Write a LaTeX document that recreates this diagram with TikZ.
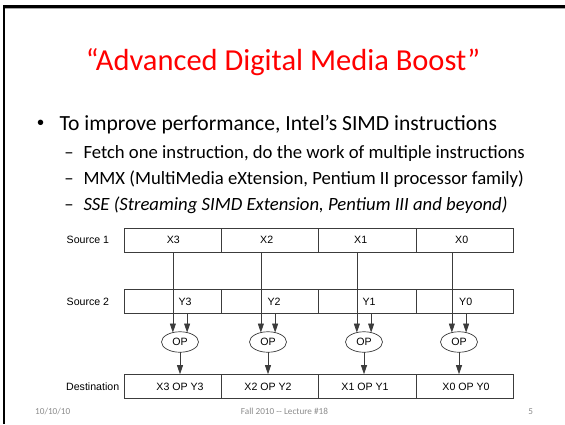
\documentclass[tikz,border=0pt]{standalone}
\usepackage{fontspec}
\setmainfont{Carlito}
\newfontfamily\arialf{Liberation Sans}
\usetikzlibrary{shapes.geometric,arrows.meta}
\definecolor{titlered}{RGB}{255,0,0}
\definecolor{footgray}{RGB}{140,140,140}
\definecolor{linegray}{RGB}{60,60,60}
\begin{document}
\begin{tikzpicture}[x=1pt,y=-1pt,
  cell/.style={draw=linegray,line width=0.7pt,minimum width=97.3pt,minimum height=24pt,inner sep=0pt,outer sep=0pt},
  dtext/.style={font=\arialf\fontsize{10.6}{12}\selectfont,anchor=base,inner sep=0pt},
  rowlabel/.style={font=\arialf\fontsize{10.6}{12}\selectfont,anchor=base west,inner sep=0pt},
  opnode/.style={ellipse,draw=linegray,line width=0.7pt,minimum width=37pt,minimum height=20.5pt,inner sep=0pt,outer sep=0pt,font=\arialf\fontsize{10.6}{12}\selectfont},
  arr/.style={draw=linegray,line width=0.7pt,-{Triangle[length=9pt,width=6pt]}},
  bodytext/.style={anchor=base west,inner sep=0pt,font=\fontsize{21.6}{26}\selectfont},
  subtext/.style={anchor=base west,inner sep=0pt,font=\fontsize{18.7}{22}\selectfont},
  foot/.style={inner sep=0pt,text=footgray,font=\fontsize{9.2}{11}\selectfont}]
\useasboundingbox (0,0) rectangle (565,424);
\fill[white] (0,0) rectangle (565,424);
% slide frame
\fill[black] (3,5) rectangle (565,8);
\fill[black] (3,5) rectangle (5,424);
\fill[black!35] (5,8) rectangle (565,9);
% title
\node[anchor=base,inner sep=0pt,text=titlered,font=\fontsize{30.5}{36}\selectfont] (title) at (283,70.7) {“Advanced Digital Media Boost”};
% bullets
\node[anchor=base,inner sep=0pt,font=\arialf\fontsize{20}{24}\selectfont] (bul) at (40.7,129.5) {•};
\node[bodytext] (b1) at (59.3,130) {To improve performance, Intel’s SIMD instructions};
\node[anchor=base,inner sep=0pt,font=\fontsize{18.7}{22}\selectfont] (d1) at (69,158.3) {–};
\node[subtext] (s1) at (83.3,158.3) {Fetch one instruction, do the work of multiple instructions};
\node[anchor=base,inner sep=0pt,font=\fontsize{18.7}{22}\selectfont] (d2) at (69,184) {–};
\node[subtext] (s2) at (83.3,184) {MMX (MultiMedia eXtension, Pentium II processor family)};
\node[anchor=base,inner sep=0pt,font=\fontsize{18.7}{22}\selectfont] (d3) at (69,210) {–};
\node[subtext] (s3) at (83.3,210) {\itshape SSE (Streaming SIMD Extension, Pentium III and beyond)};
% row labels
\node[rowlabel] (lab1) at (66.5,243.8) {Source 1};
\node[rowlabel] (lab2) at (66.5,305.5) {Source 2};
\node[rowlabel] (lab3) at (66,390) {Destination};
% cells
\foreach \i/\n in {0/3,1/2,2/1,3/0}{
  \node[cell] (sa\n) at ({124+97.3*\i+48.65},240) {};
  \node[cell] (sb\n) at ({124+97.3*\i+48.65},301.2) {};
  \node[cell] (dc\n) at ({124+97.3*\i+48.65},386.2) {};
}
% cell texts
\node[dtext] (tx3) at (173.3,243.8) {X3};
\node[dtext] (tx2) at (266.7,243.8) {X2};
\node[dtext] (tx1) at (360.7,243.8) {X1};
\node[dtext] (tx0) at (461.7,243.8) {X0};
\node[dtext] (ty3) at (185,305.5) {Y3};
\node[dtext] (ty2) at (274,305.5) {Y2};
\node[dtext] (ty1) at (369,305.5) {Y1};
\node[dtext] (ty0) at (465.7,305.5) {Y0};
\node[dtext] (td3) at (180,390) {X3 OP Y3};
\node[dtext] (td2) at (268,390) {X2 OP Y2};
\node[dtext] (td1) at (365,390) {X1 OP Y1};
\node[dtext] (td0) at (466,390) {X0 OP Y0};
% operators
\node[opnode] (op3) at (180,342) {OP};
\node[opnode] (op2) at (268,342) {OP};
\node[opnode] (op1) at (364,342) {OP};
\node[opnode] (op0) at (459,342) {OP};
% connectors
\foreach \n in {3,2,1,0}{
  \draw[arr] (op\n.127 |- sa\n.south) -- (op\n.127);
  \draw[arr] (op\n.53 |- sb\n.south) -- (op\n.53);
  \draw[arr] (op\n.south) -- (op\n.south |- dc\n.north);
}
% footer
\node[foot,anchor=base west] (date) at (35,414) {10/10/10};
\node[foot,anchor=base] (lect) at (284.5,414) {Fall 2010 {-}{-} Lecture \#18};
\node[foot,anchor=base] (pg) at (530.7,414) {5};
\end{tikzpicture}
\end{document}
